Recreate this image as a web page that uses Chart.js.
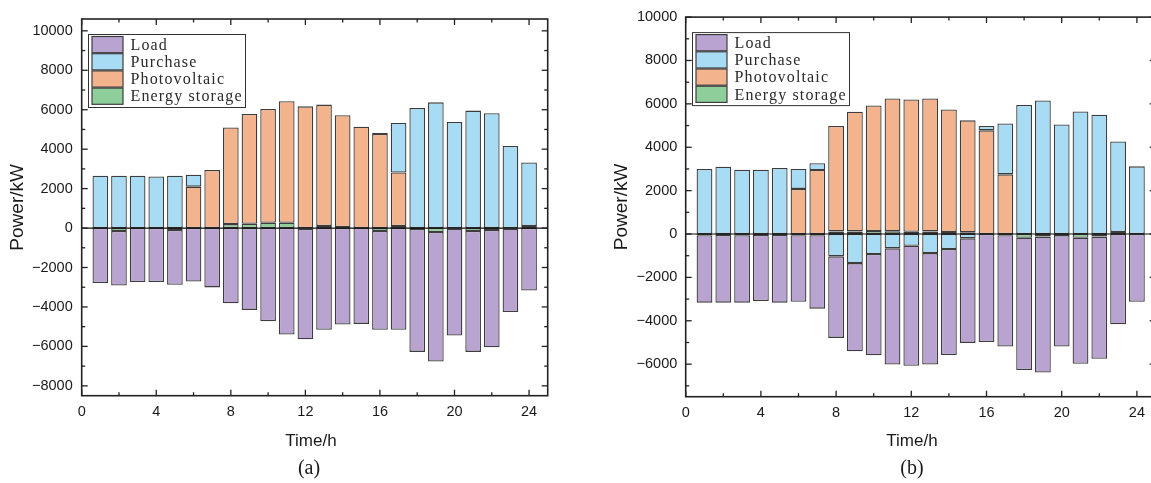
<!DOCTYPE html>
<html>
<head>
<meta charset="utf-8">
<script src="https://cdn.jsdelivr.net/npm/chart.js@4.4.1/dist/chart.umd.min.js"></script>
<style>
  html, body { margin: 0; padding: 0; background: #fff; }
  body { width: 1151px; height: 483px; overflow: hidden; position: relative; }
  canvas { position: absolute; top: 0; }
  .lbl { position: absolute; transform: translate(-50%, -50%); white-space: nowrap; color: #1a1a1a; }
  .axis { font-family: "Liberation Sans", Arial, sans-serif; font-size: 17px; }
  .cap { font-family: "Liberation Serif", "Times New Roman", serif; font-size: 20px; }
</style>
</head>
<body>
<canvas id="chartA" width="570" height="455" style="left:0px"></canvas>
<canvas id="chartB" width="590" height="455" style="left:590px"></canvas>
<div class="lbl axis" style="left:311px;top:441px">Time/h</div>
<div class="lbl axis" style="left:912px;top:441px">Time/h</div>
<div class="lbl cap" style="left:309px;top:467px">(a)</div>
<div class="lbl cap" style="left:912px;top:467px">(b)</div>
<script>
// Hourly power balance, kW (positive = supply, negative = consumption / export)
const hours = [1,2,3,4,5,6,7,8,9,10,11,12,13,14,15,16,17,18,19,20,21,22,23,24];
const xTicks = [0,4,8,12,16,20,24];
const yTicksA = [-8000,-6000,-4000,-2000,0,2000,4000,6000,8000,10000];
const yTicksB = [-6000,-4000,-2000,0,2000,4000,6000,8000,10000];

// Scenario (a)
const loadA     = [-2790,-2760,-2740,-2740,-2780,-2710,-3010,-3810,-4150,-4720,-5400,-5600,-5160,-4890,-4860,-5010,-5160,-6230,-6570,-5420,-6130,-5940,-4230,-3170];
const purchaseA = [2650,2650,2650,2620,2650,600,0,0,0,0,0,0,0,0,0,50,2510,6090,6375,5380,5955,5820,4160,3230];
const pvA       = [0,0,0,0,0,2100,2950,4900,5560,5770,6160,6170,6160,5670,5140,4770,2720,0,0,0,0,0,0,0];
const storageA  = [0,-150,0,0,-100,0,0,200,220,270,270,-40,100,50,0,-150,100,-50,-200,-30,-150,-100,-30,100];

// Scenario (b)
const loadB     = [-3105,-3125,-3105,-3050,-3125,-3060,-3380,-3760,-4070,-4670,-5360,-5530,-5140,-4890,-4820,-4980,-5130,-6100,-6270,-5140,-5810,-5630,-4160,-3120];
const purchaseB = [3000,3100,2965,2965,3040,920,310,-1030,-1340,-920,-660,-540,-880,-690,-200,200,2350,5945,6160,5050,5650,5500,4180,3120];
const pvB       = [0,0,0,0,0,2080,2950,4860,5520,5790,6120,6100,6130,5650,5160,4780,2750,0,0,0,0,0,0,0];
const storageB  = [-60,-40,-60,-40,-40,-60,-60,120,120,140,130,100,120,90,80,0,-60,-170,-120,-50,-170,-120,90,0];

const COLORS = {
  load: '#B9A3D1',
  purchase: '#A8DCF4',
  pv: '#F3B48D',
  storage: '#8ECE9B',
  edge: '#3d3d3d'
};

const toPoints = arr => arr.map((v, i) => ({ x: hours[i], y: v }));

function dataset(label, values, color) {
  return {
    label,
    data: toPoints(values),
    backgroundColor: color,
    borderColor: COLORS.edge,
    borderWidth: 1.3,
    borderSkipped: false,
    barPercentage: 0.84,
    categoryPercentage: 1
  };
}

// Frame, zero line and inward tick marks on all four sides
const framePlugin = {
  id: 'frame',
  afterDatasetsDraw(chart) {
    const { ctx, chartArea: a, scales: { x, y } } = chart;
    const seg = (x1, y1, x2, y2) => { ctx.beginPath(); ctx.moveTo(x1, y1); ctx.lineTo(x2, y2); ctx.stroke(); };
    ctx.save();
    ctx.strokeStyle = '#111';
    ctx.lineWidth = 1.2;
    const y0 = y.getPixelForValue(0);
    seg(a.left, y0, a.right, y0);

    ctx.lineWidth = 1.6;
    ctx.strokeStyle = '#222';
    ctx.strokeRect(a.left, a.top, a.right - a.left, a.bottom - a.top);

    ctx.lineWidth = 1.3;
    for (let v = 0; v <= 24; v += 2) {
      const px = x.getPixelForValue(v);
      const len = v % 4 === 0 ? 6 : 3.5;
      seg(px, a.bottom, px, a.bottom - len);
      seg(px, a.top, px, a.top + len);
    }
    const yStart = Math.ceil(y.min / 1000) * 1000;
    for (let v = yStart; v <= y.max; v += 1000) {
      const py = y.getPixelForValue(v);
      const len = v % 2000 === 0 ? 6 : 3.5;
      seg(a.left, py, a.left + len, py);
      seg(a.right, py, a.right - len, py);
    }
    ctx.restore();
  }
};

// Boxed legend placed inside the plot area, top-left
const boxLegend = {
  id: 'boxLegend',
  afterDraw(chart) {
    const { ctx, chartArea: a } = chart;
    const bx = a.left + 6.8, by = a.top + 15.5;
    const bw = 157, bh = 73;
    const rowH = 17.2;
    ctx.save();
    ctx.fillStyle = '#fff';
    ctx.fillRect(bx, by, bw, bh);
    ctx.strokeStyle = '#333';
    ctx.lineWidth = 1;
    ctx.strokeRect(bx, by, bw, bh);
    const items = chart.data.datasets.slice().reverse();
    ctx.font = '16px "Liberation Serif", "DejaVu Serif", serif';
    ctx.textBaseline = 'middle';
    ctx.textAlign = 'left';
    if ('letterSpacing' in ctx) ctx.letterSpacing = '1.15px';
    items.forEach((ds, i) => {
      const sy = by + 2 + i * rowH;
      ctx.fillStyle = ds.backgroundColor;
      ctx.fillRect(bx + 3.5, sy, 31, rowH - 1);
      ctx.strokeStyle = COLORS.edge;
      ctx.lineWidth = 1.2;
      ctx.strokeRect(bx + 3.5, sy, 31, rowH - 1);
      ctx.fillStyle = '#2a2a2a';
      ctx.fillText(ds.label, bx + 42, sy + rowH / 2 + 0.5);
    });
    ctx.restore();
  }
};

const fmtTick = v => (v < 0 ? '\u2212' + Math.abs(v) : String(v));

function buildChart(id, series, opts) {
  const tickFont = { family: '"Liberation Sans", Arial, sans-serif', size: 14.5 };
  return new Chart(document.getElementById(id), {
    type: 'bar',
    data: {
      datasets: [
        dataset('Energy storage', series.storage, COLORS.storage),
        dataset('Photovoltaic', series.pv, COLORS.pv),
        dataset('Purchase', series.purchase, COLORS.purchase),
        dataset('Load', series.load, COLORS.load)
      ]
    },
    options: {
      responsive: false,
      animation: false,
      layout: { padding: { left: 0, top: opts.top, right: opts.right, bottom: 0 } },
      plugins: { legend: { display: false }, tooltip: { enabled: false } },
      scales: {
        x: {
          type: 'linear',
          stacked: true,
          offset: false,
          min: 0,
          max: 25,
          grid: { display: false, drawTicks: false },
          border: { display: false },
          afterBuildTicks: s => { s.ticks = xTicks.map(v => ({ value: v })); },
          afterFit: s => { s.height = opts.xHeight; },
          ticks: { font: tickFont, color: '#1a1a1a', padding: 8, maxRotation: 0, callback: fmtTick }
        },
        y: {
          stacked: true,
          min: opts.ymin,
          max: opts.ymax,
          grid: { display: false, drawTicks: false },
          border: { display: false },
          afterBuildTicks: s => { s.ticks = opts.yTicks.map(v => ({ value: v })); },
          afterFit: s => { s.width = opts.yWidth; },
          ticks: { font: tickFont, color: '#1a1a1a', padding: opts.yPad, callback: fmtTick },
          title: {
            display: true,
            text: 'Power/kW',
            color: '#1a1a1a',
            font: { family: '"Liberation Sans", Arial, sans-serif', size: 19 },
            padding: { top: opts.titlePad, bottom: 0 }
          }
        }
      }
    },
    plugins: [framePlugin, boxLegend]
  });
}

buildChart('chartA',
  { load: loadA, purchase: purchaseA, pv: pvA, storage: storageA },
  { top: 19, right: 22.3, xHeight: 59.3, yWidth: 81.7, ymin: -8500, ymax: 10600, yTicks: yTicksA, yPad: 9, titlePad: 6.8 });

buildChart('chartB',
  { load: loadB, purchase: purchaseB, pv: pvB, storage: storageB },
  { top: 16, right: 24.3, xHeight: 58.3, yWidth: 95.7, ymin: -7500, ymax: 10000, yTicks: yTicksB, yPad: 8.4, titlePad: 20.8 });
</script>
</body>
</html>
